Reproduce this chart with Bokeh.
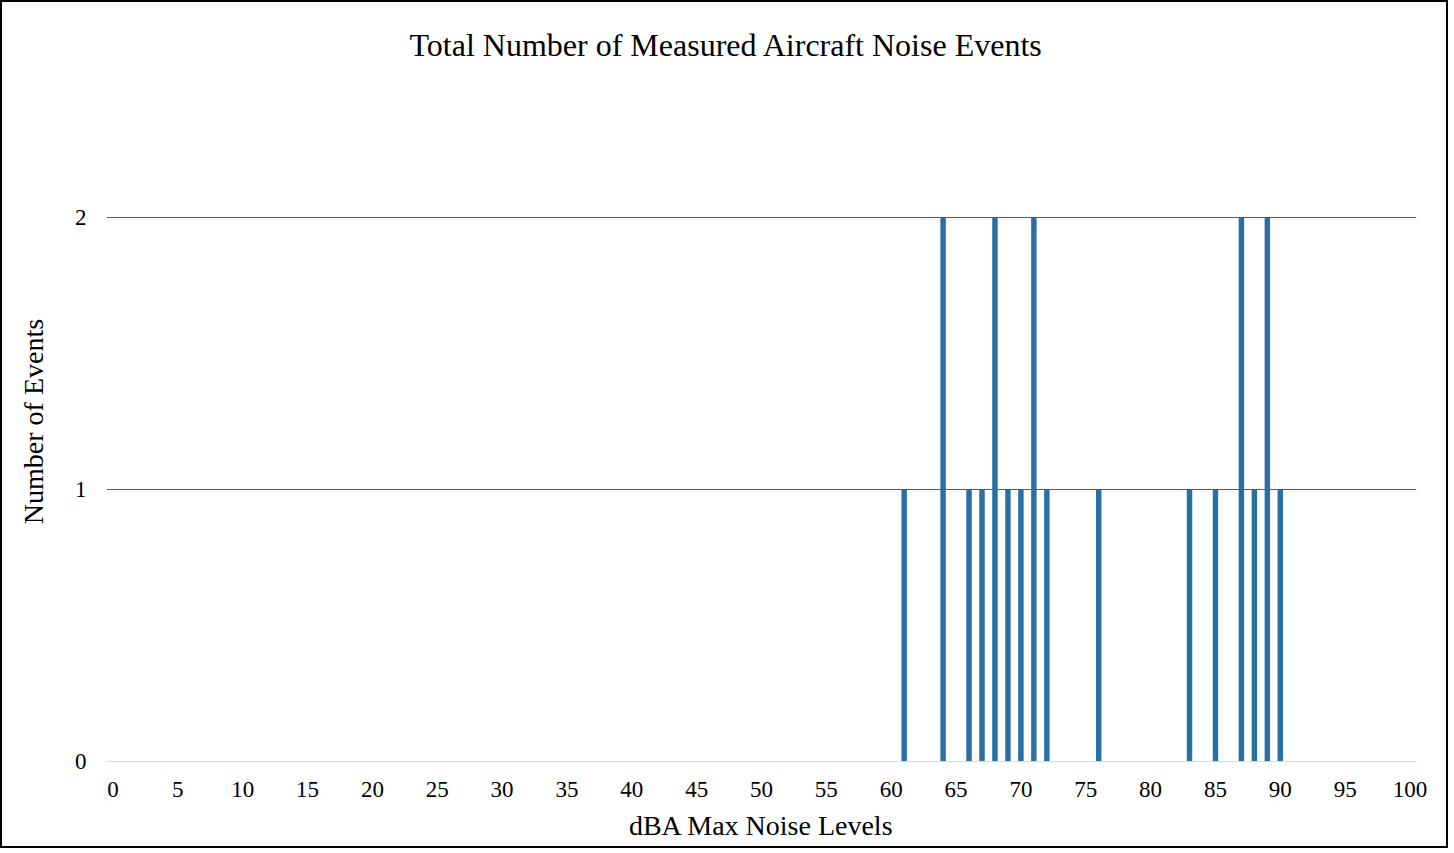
from bokeh.plotting import figure
from bokeh.models import FixedTicker, ColumnDataSource, Range1d
from bokeh.embed import file_html
from bokeh.resources import INLINE

# Data
noise_levels = [61, 64, 66, 67, 68, 69, 70, 71, 72, 76, 83, 85, 87, 88, 89, 90]
event_counts = [1, 2, 1, 1, 2, 1, 1, 2, 1, 1, 1, 1, 2, 1, 2, 1]
x_ticks = list(range(0, 101, 5))
y_ticks = [0, 1, 2]

FONT = "Liberation Serif"

p = figure(width=1448, height=848, output_backend="svg", toolbar_location=None,
           x_range=Range1d(-0.5, 100.5), y_range=Range1d(0, 2.5),
           min_border_left=104, min_border_right=34, min_border_top=79, min_border_bottom=89)
p.styles = {"border": "2px solid #000"}

src = ColumnDataSource(dict(x=noise_levels, y=event_counts))
p.vbar(x="x", top="y", width=0.42, bottom=0, source=src, fill_color="#2870A4", line_color=None)

p.title.text = "Total Number of Measured Aircraft Noise Events"
p.title.text_font = FONT
p.title.text_font_size = "32px"
p.title.text_font_style = "normal"
p.title.text_color = "#000"
p.title.align = "left"
p.title.offset = 303
p.title.standoff = 36
p.title.vertical_align = "middle"

p.outline_line_color = None
p.xgrid.grid_line_color = None
p.ygrid.ticker = FixedTicker(ticks=[1, 2])
p.ygrid.grid_line_color = "#595959"
p.ygrid.grid_line_width = 1.2

p.xaxis.ticker = FixedTicker(ticks=x_ticks)
p.yaxis.ticker = FixedTicker(ticks=y_ticks)
for ax in (p.xaxis, p.yaxis):
    ax.major_tick_line_color = None
    ax.minor_tick_line_color = None
    ax.major_label_text_font = FONT
    ax.major_label_text_font_size = "23px"
    ax.major_label_text_color = "#000"
    ax.axis_label_text_font = FONT
    ax.axis_label_text_font_size = "28px"
    ax.axis_label_text_font_style = "normal"
    ax.axis_label_text_color = "#000"
p.xaxis.axis_line_color = "#d9d9d9"
p.yaxis.axis_line_color = None
p.xaxis.axis_label = "dBA Max Noise Levels"
p.yaxis.axis_label = "Number of Events"
p.xaxis.major_label_standoff = 14
p.yaxis.major_label_standoff = 14
p.xaxis.axis_label_standoff = 10
p.yaxis.axis_label_standoff = 23

open("out.html", "w").write(file_html(p, INLINE))
